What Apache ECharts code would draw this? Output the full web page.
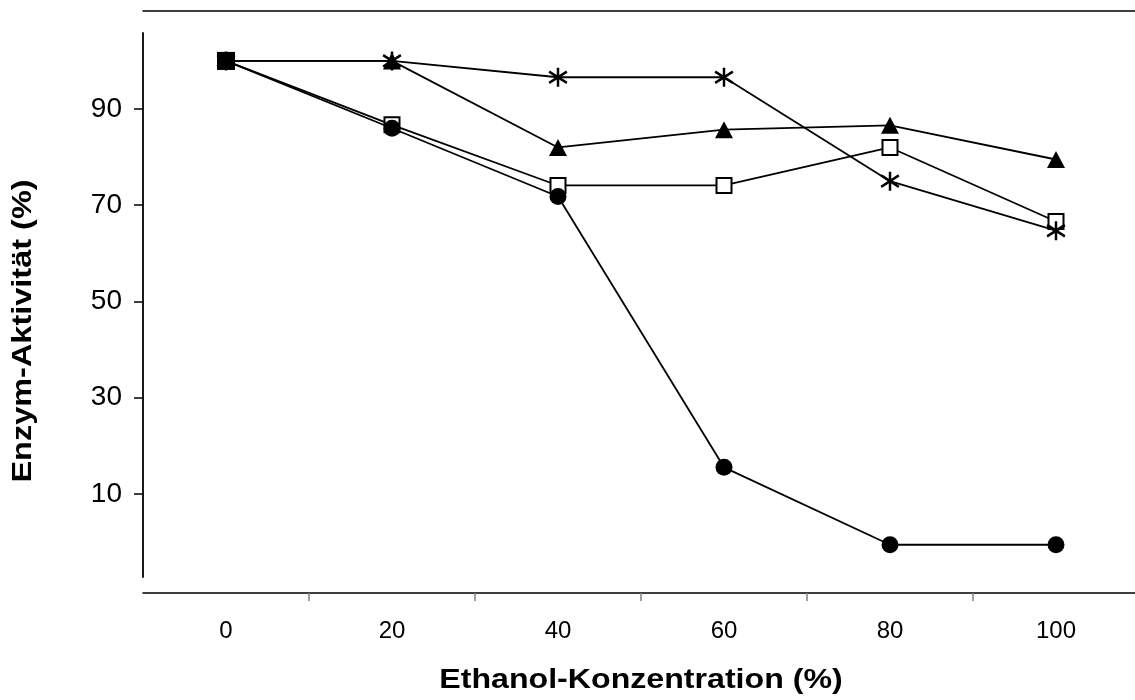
<!DOCTYPE html>
<html>
<head>
<meta charset="utf-8">
<script src="https://cdn.jsdelivr.net/npm/echarts@6/dist/echarts.min.js"></script>
<style>
  html, body { margin: 0; padding: 0; background: #fff; }
  #chart { width: 1135px; height: 700px; }
</style>
</head>
<body>
<div id="chart"></div>
<script>
// ---- data ----
const categories = [0, 20, 40, 60, 80, 100];            // Ethanol-Konzentration (%)
const circleValues   = [100, 86.0, 71.8, 15.5, -0.6, -0.6]; // filled circles
const squareValues   = [100, 86.7, 74.1, 74.1, 82.0, 66.6]; // open squares
const triangleValues = [100, 100, 82.0, 85.7, 86.6, 79.5];  // filled triangles
const starValues     = [100, 100, 96.6, 96.6, 75.0, 64.7];  // asterisks
const yTickValues = [10, 30, 50, 70, 90];
const xTickValues = [10, 30, 50, 70, 90];                   // tick marks between categories
const xTitle = 'Ethanol-Konzentration (%)';
const yTitle = 'Enzym-Aktivität (%)';

const FONT = "'Liberation Sans', Arial, Helvetica, sans-serif";
const starPath = 'path://M43 0 L57 0 L57 100 L43 100 Z ' +
  'M3.6 14.0 L103.6 74.0 L96.4 86.0 L-3.6 26.0 Z ' +
  'M-3.6 74.0 L96.4 14.0 L103.6 26.0 L3.6 86.0 Z';

function pairs(vals) { return categories.map((c, i) => [c, vals[i]]); }

const chart = echarts.init(document.getElementById('chart'), null, { renderer: 'canvas' });

const lineBase = {
  type: 'line',
  animation: false,
  showAllSymbol: true,
  lineStyle: { color: '#000', width: 1.8 },
  emphasis: { disabled: true }
};

const squareData = pairs(squareValues).map((p, i) => i === 0
  ? { value: p, symbolSize: 18, itemStyle: { color: '#000', borderWidth: 0 } }
  : { value: p });

chart.setOption({
  backgroundColor: '#fff',
  animation: false,
  grid: { left: 143, right: -4, top: 33, bottom: 123, containLabel: false, outerBoundsMode: 'none' },
  xAxis: [
    {
      type: 'value', position: 'bottom', min: -10, max: 110, offset: 16,
      splitLine: { show: false },
      axisLine: { show: true, onZero: false, lineStyle: { color: '#000', width: 1.6 } },
      axisTick: { show: true, customValues: xTickValues, length: 8, lineStyle: { color: '#808080', width: 1.5 } },
      axisLabel: { show: true, customValues: categories, fontSize: 24, fontFamily: FONT, color: '#000', margin: 26 }
    },
    {
      type: 'value', position: 'top', min: -10, max: 110, offset: 22,
      splitLine: { show: false },
      axisLine: { show: true, onZero: false, lineStyle: { color: '#000', width: 1.6 } },
      axisTick: { show: false },
      axisLabel: { show: false }
    }
  ],
  yAxis: {
    type: 'value', min: -7.3, max: 105.8,
    splitLine: { show: false },
    axisLine: { show: true, onZero: false, lineStyle: { color: '#000', width: 1.8 } },
    axisTick: { show: true, customValues: yTickValues, length: 9, lineStyle: { color: '#000', width: 1.5 } },
    axisLabel: { show: true, customValues: yTickValues, fontSize: 28, fontFamily: FONT, color: '#000', margin: 21 }
  },
  graphic: [
    {
      type: 'text', x: 641, y: 681, scaleX: 1.19, silent: true,
      style: { text: xTitle, fontSize: 27, fontWeight: 'bold', fontFamily: FONT, fill: '#000',
               textAlign: 'center', textVerticalAlign: 'middle' }
    },
    {
      type: 'text', x: 23, y: 331, rotation: Math.PI / 2, scaleX: 1.16, silent: true,
      style: { text: yTitle, fontSize: 28, fontWeight: 'bold', fontFamily: FONT, fill: '#000',
               textAlign: 'center', textVerticalAlign: 'middle' }
    }
  ],
  series: [
    Object.assign({}, lineBase, {
      name: 'square', data: squareData, symbol: 'rect', symbolSize: 15,
      itemStyle: { color: '#fff', borderColor: '#000', borderWidth: 2 }
    }),
    Object.assign({}, lineBase, {
      name: 'circle', data: pairs(circleValues), symbol: 'circle', symbolSize: 17,
      itemStyle: { color: '#000' }
    }),
    Object.assign({}, lineBase, {
      name: 'triangle', data: pairs(triangleValues), symbol: 'triangle', symbolSize: [18, 17],
      itemStyle: { color: '#000' }
    }),
    Object.assign({}, lineBase, {
      name: 'star', data: pairs(starValues), symbol: starPath, symbolSize: 19,
      itemStyle: { color: '#000' }
    })
  ]
});
</script>
</body>
</html>
